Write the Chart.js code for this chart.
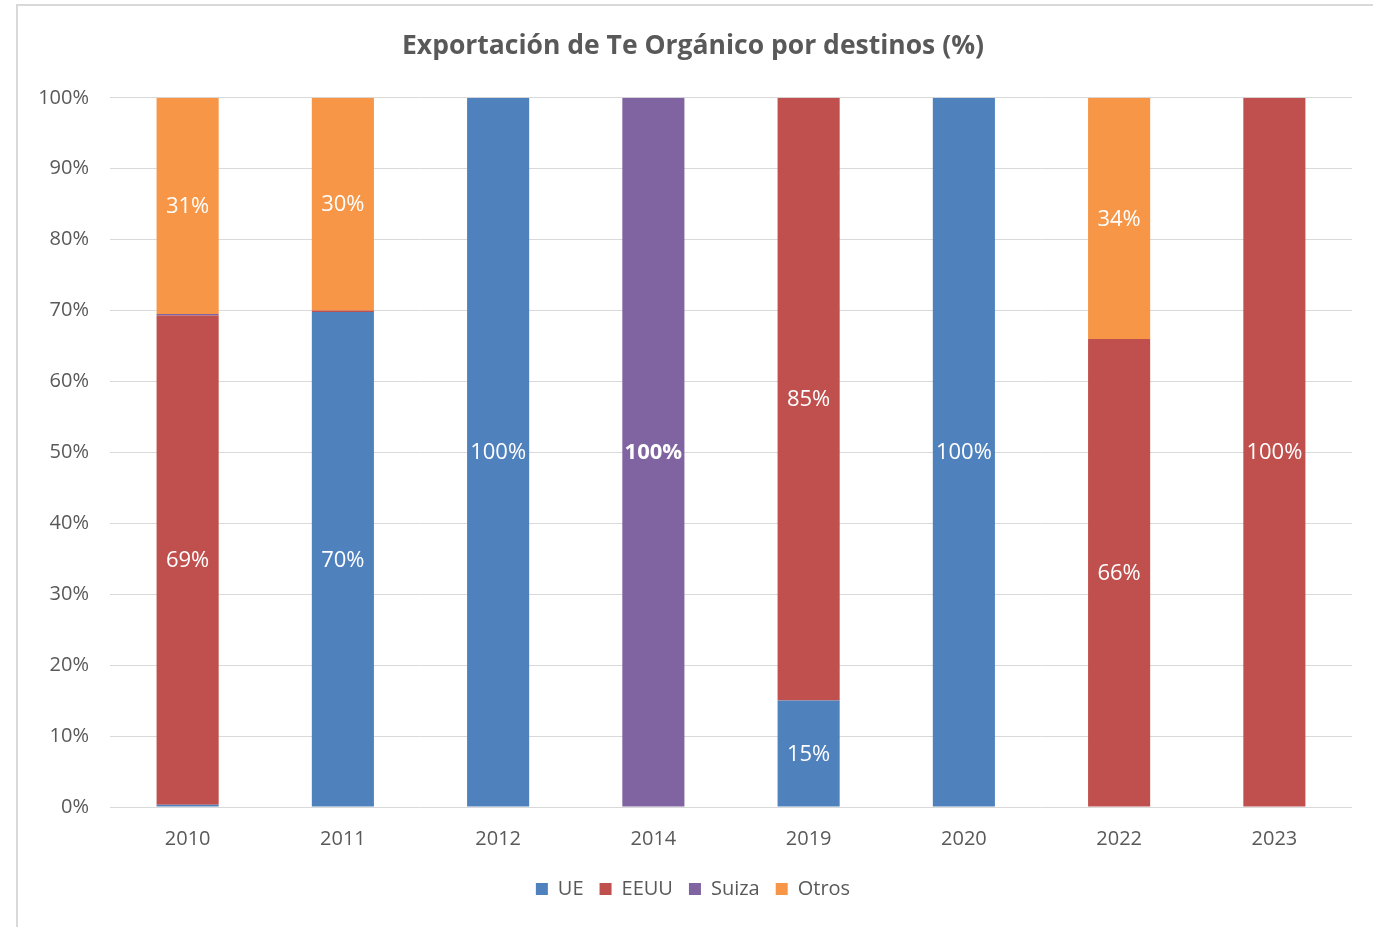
<!DOCTYPE html>
<html lang="es">
<head>
<meta charset="UTF-8">
<title>Exportación de Te Orgánico por destinos (%)</title>
<script src="https://cdn.jsdelivr.net/npm/chart.js"></script>
<style>
  html, body { margin: 0; padding: 0; background: #fff; overflow: hidden; }
  #frame { position: absolute; left: 16px; top: 4px; width: 1400px; height: 1000px; border: 2px solid #d9d9d9; }
  #wrap { position: absolute; left: 0; top: 0; width: 1396px; height: 927px; }
</style>
</head>
<body>
<div id="frame"></div>
<div id="wrap"><canvas id="chart" width="1396" height="927"></canvas></div>
<script>
// data (shares in %)
var years = ['2010', '2011', '2012', '2014', '2019', '2020', '2022', '2023'];
var ue    = [0.3, 69.8, 100, 0,   15, 100, 0,  0];
var eeuu  = [69.0, 0.2, 0,   0,   85, 0,   66, 100];
var suiza = [0.2, 0,    0,   100, 0,  0,   0,  0];
var otros = [30.5, 30,  0,   0,   0,  0,   34, 0];

var textColor = '#595959';
var fontName = '"Open Sans", Lato, sans-serif';

// white value labels inside the bar segments
var segmentLabels = {
    id: 'segmentLabels',
    afterDatasetsDraw: function(chart) {
        var ctx = chart.ctx;
        ctx.save();
        ctx.fillStyle = '#ffffff';
        ctx.textAlign = 'center';
        ctx.textBaseline = 'middle';
        chart.data.datasets.forEach(function(ds, i) {
            var meta = chart.getDatasetMeta(i);
            meta.data.forEach(function(bar, j) {
                var v = ds.data[j];
                if (v < 5) return;
                var bold = chart.data.labels[j] === '2014';
                ctx.font = (bold ? 'bold ' : '') + '22px ' + fontName;
                ctx.fillText(Math.round(v) + '%', bar.x, (bar.y + bar.base) / 2 + 1);
            });
        });
        ctx.restore();
    }
};

var ctx = document.getElementById('chart').getContext('2d');
var chart = new Chart(ctx, {
    type: 'bar',
    data: {
        labels: years,
        datasets: [
            { label: 'UE', data: ue, backgroundColor: '#4F81BD' },
            { label: 'EEUU', data: eeuu, backgroundColor: '#C0504D' },
            { label: 'Suiza', data: suiza, backgroundColor: '#8064A2' },
            { label: 'Otros', data: otros, backgroundColor: '#F79646' }
        ]
    },
    options: {
        responsive: false,
        animation: false,
        layout: { padding: { top: 0, right: 44, bottom: 18, left: 34 } },
        datasets: { bar: { barPercentage: 0.4, categoryPercentage: 1 } },
        scales: {
            x: {
                stacked: true,
                grid: { display: false },
                border: { display: false },
                ticks: { color: textColor, font: { family: fontName, size: 20 }, padding: 12 }
            },
            y: {
                stacked: true,
                min: 0,
                max: 100,
                afterFit: function(scale) { scale.width = 76; },
                grid: { color: '#d9d9d9', drawTicks: false },
                border: { display: false },
                ticks: {
                    stepSize: 10,
                    padding: 21,
                    color: textColor,
                    font: { family: fontName, size: 20 },
                    callback: function(v) { return v + '%'; }
                }
            }
        },
        plugins: {
            title: {
                display: true,
                text: 'Exportación de Te Orgánico por destinos (%)',
                color: textColor,
                font: { family: fontName, size: 26.5, weight: 'bold' },
                padding: { top: 31, bottom: 35 }
            },
            legend: {
                position: 'bottom',
                labels: {
                    color: textColor,
                    font: { family: fontName, size: 20 },
                    boxWidth: 12,
                    boxHeight: 12,
                    padding: 16
                }
            },
            tooltip: { enabled: false }
        }
    },
    plugins: [segmentLabels]
});
</script>
</body>
</html>
